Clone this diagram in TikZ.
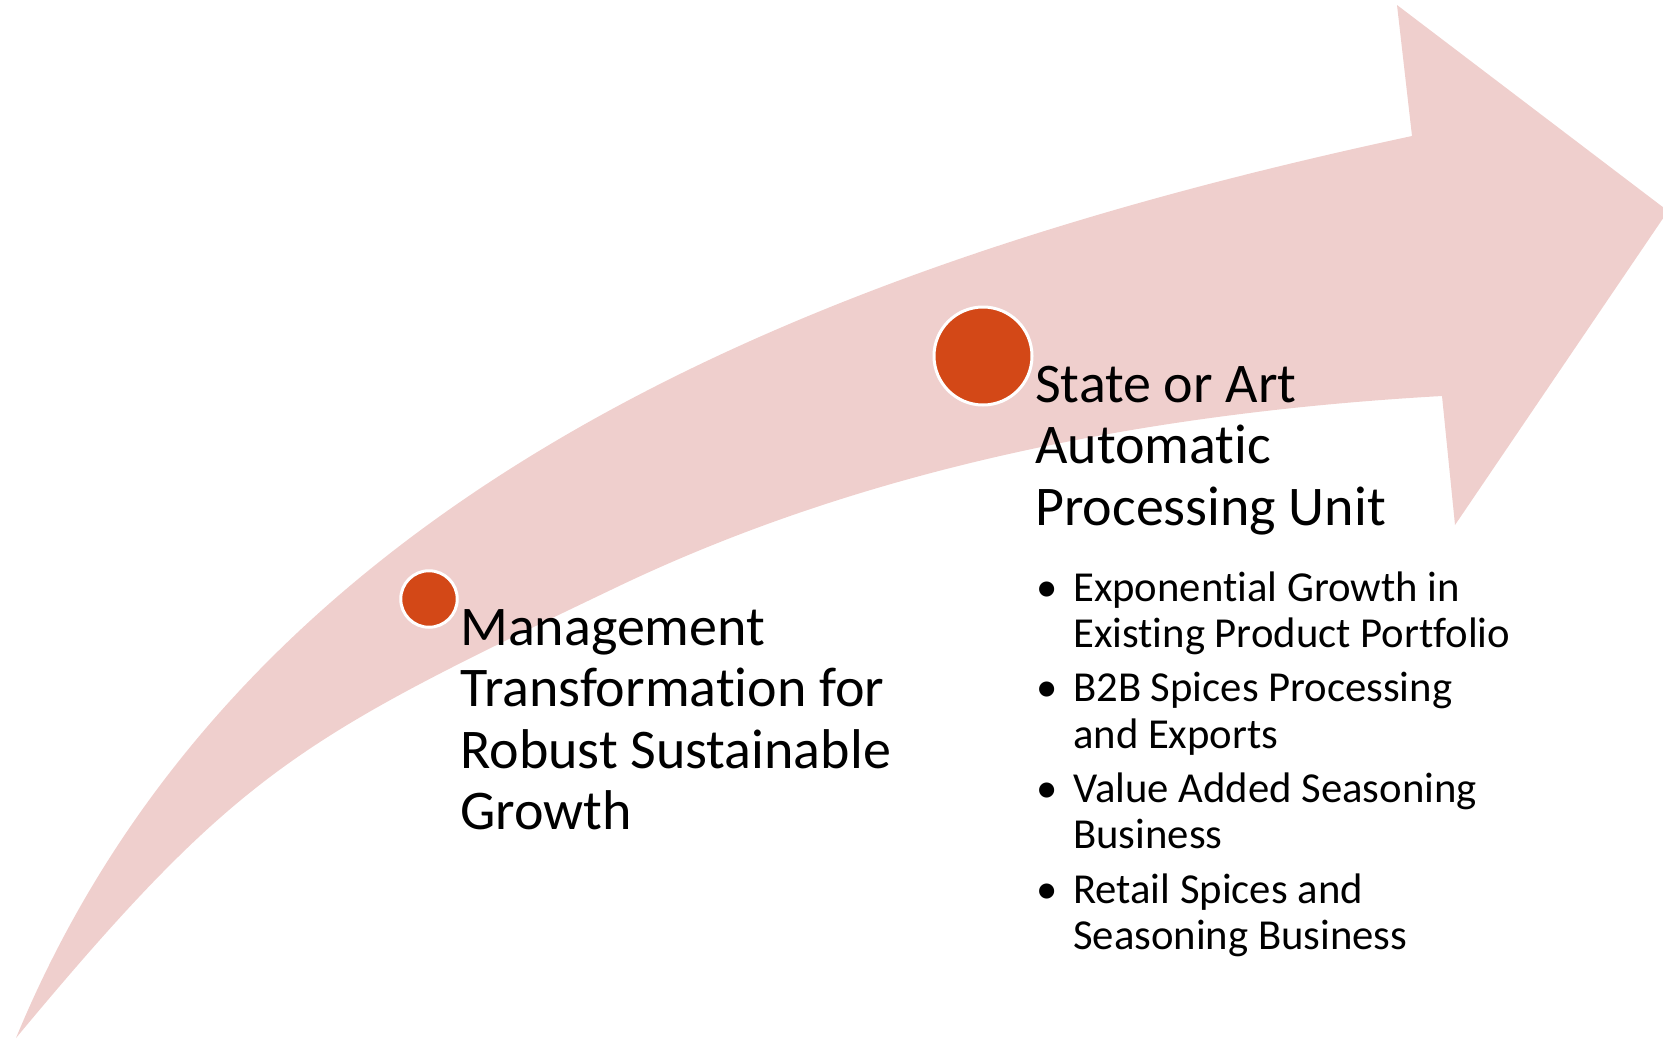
\documentclass[tikz,border=0pt]{standalone}
\usepackage{fontspec}
\setmainfont[Ligatures=NoCommon]{Carlito}
\definecolor{bandpink}{HTML}{EFCFCD}
\definecolor{dotred}{HTML}{D34817}
\begin{document}
\begin{tikzpicture}[x=1pt,y=-1pt,
  title/.style={anchor=base west, inner sep=0pt, font=\fontsize{56}{61.5}\selectfont},
  item/.style={anchor=base west, inner sep=0pt, font=\fontsize{42.7}{46}\selectfont},
  bul/.style={anchor=base, inner sep=0pt, font=\fontsize{42.7}{46}\selectfont},
  milestone/.style={circle, fill=dotred, draw=white, line width=3pt, inner sep=0pt}]
\useasboundingbox (0,0) rectangle (1663,1039);
\clip (0,0) rectangle (1663,1039);
\fill[bandpink]
  (16,1038) .. controls (244,486) and (825,262) .. (1412,136)
  -- (1397,5) -- (1668,211) -- (1455,525) -- (1442,396)
  .. controls (1159,412) and (872,465) .. (617,587)
  .. controls (301,738) and (240,768.5) .. (16,1038)
  -- cycle;
\node[milestone, minimum size=56.5pt] (m1) at (429,599) {};
\node[milestone, minimum size=98pt] (m2) at (983,356) {};
% left text
\node[title] (t1a) at (460,645) {Management};
\node[title] (t1b) at (460,706.5) {Transformation for};
\node[title] (t1c) at (460,768) {Robust Sustainable};
\node[title] (t1d) at (460,829.5) {Growth};
% right title
\node[title] (t2a) at (1035,402) {State or Art};
\node[title] (t2b) at (1035,463.5) {Automatic};
\node[title] (t2c) at (1035,525) {Processing Unit};
% bullets
\node[bul] (b1) at (1047,601) {•};
\node[item] (i1a) at (1073,601) {Exponential Growth in};
\node[item] (i1b) at (1073,647.3) {Existing Product Portfolio};
\node[bul] (b2) at (1047,701.8) {•};
\node[item] (i2a) at (1073,701.8) {B2B Spices Processing};
\node[item] (i2b) at (1073,748.1) {and Exports};
\node[bul] (b3) at (1047,802.6) {•};
\node[item] (i3a) at (1073,802.6) {Value Added Seasoning};
\node[item] (i3b) at (1073,848.9) {Business};
\node[bul] (b4) at (1047,903.4) {•};
\node[item] (i4a) at (1073,903.4) {Retail Spices and};
\node[item] (i4b) at (1073,949.7) {Seasoning Business};
\end{tikzpicture}
\end{document}
